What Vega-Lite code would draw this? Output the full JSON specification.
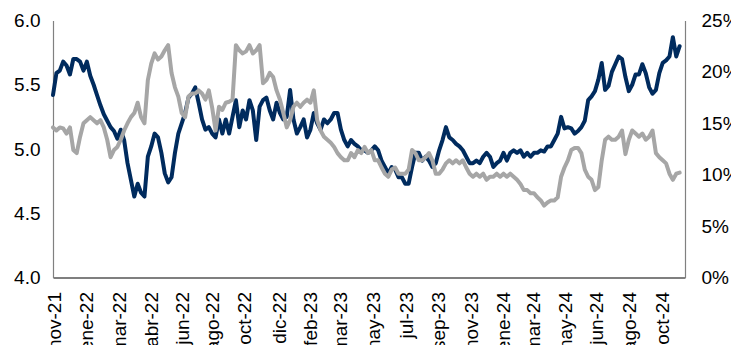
{
  "$schema": "https://vega.github.io/schema/vega-lite/v6.json",
  "width": 632,
  "height": 257,
  "autosize": "none",
  "padding": {"left": 53, "top": 20.5, "right": 46, "bottom": 67.5},
  "background": "white",
  "config": {
    "font": "Liberation Sans",
    "view": {"stroke": null},
    "axis": {"grid": false, "ticks": false, "title": null, "labelFontSize": 19, "labelColor": "#000000", "labelFont": "Liberation Sans", "domainWidth": 1.2}
  },
  "data": {
    "values": [
      {"date": "2021-11-05", "rate": 5.42, "share": 0.146},
      {"date": "2021-11-11", "rate": 5.59, "share": 0.143},
      {"date": "2021-11-17", "rate": 5.61, "share": 0.146},
      {"date": "2021-11-23", "rate": 5.68, "share": 0.145},
      {"date": "2021-11-29", "rate": 5.65, "share": 0.140},
      {"date": "2021-12-05", "rate": 5.58, "share": 0.146},
      {"date": "2021-12-11", "rate": 5.70, "share": 0.124},
      {"date": "2021-12-17", "rate": 5.70, "share": 0.121},
      {"date": "2021-12-23", "rate": 5.68, "share": 0.137},
      {"date": "2021-12-29", "rate": 5.61, "share": 0.150},
      {"date": "2022-01-04", "rate": 5.68, "share": 0.153},
      {"date": "2022-01-10", "rate": 5.57, "share": 0.156},
      {"date": "2022-01-16", "rate": 5.50, "share": 0.153},
      {"date": "2022-01-22", "rate": 5.42, "share": 0.150},
      {"date": "2022-01-28", "rate": 5.34, "share": 0.153},
      {"date": "2022-02-03", "rate": 5.27, "share": 0.146},
      {"date": "2022-02-09", "rate": 5.22, "share": 0.134},
      {"date": "2022-02-15", "rate": 5.17, "share": 0.117},
      {"date": "2022-02-21", "rate": 5.14, "share": 0.124},
      {"date": "2022-02-27", "rate": 5.08, "share": 0.127},
      {"date": "2022-03-05", "rate": 5.15, "share": 0.134},
      {"date": "2022-03-11", "rate": 5.07, "share": 0.143},
      {"date": "2022-03-17", "rate": 4.89, "share": 0.150},
      {"date": "2022-03-23", "rate": 4.76, "share": 0.156},
      {"date": "2022-03-29", "rate": 4.63, "share": 0.160},
      {"date": "2022-04-04", "rate": 4.73, "share": 0.170},
      {"date": "2022-04-10", "rate": 4.66, "share": 0.156},
      {"date": "2022-04-16", "rate": 4.63, "share": 0.150},
      {"date": "2022-04-22", "rate": 4.94, "share": 0.192},
      {"date": "2022-04-28", "rate": 5.02, "share": 0.208},
      {"date": "2022-05-04", "rate": 5.12, "share": 0.218},
      {"date": "2022-05-10", "rate": 5.09, "share": 0.212},
      {"date": "2022-05-16", "rate": 4.97, "share": 0.215},
      {"date": "2022-05-22", "rate": 4.81, "share": 0.221},
      {"date": "2022-05-28", "rate": 4.74, "share": 0.226},
      {"date": "2022-06-03", "rate": 4.78, "share": 0.199},
      {"date": "2022-06-09", "rate": 4.97, "share": 0.185},
      {"date": "2022-06-15", "rate": 5.12, "share": 0.176},
      {"date": "2022-06-21", "rate": 5.20, "share": 0.160},
      {"date": "2022-06-27", "rate": 5.28, "share": 0.156},
      {"date": "2022-07-03", "rate": 5.40, "share": 0.176},
      {"date": "2022-07-09", "rate": 5.43, "share": 0.179},
      {"date": "2022-07-15", "rate": 5.48, "share": 0.179},
      {"date": "2022-07-21", "rate": 5.36, "share": 0.182},
      {"date": "2022-07-27", "rate": 5.23, "share": 0.179},
      {"date": "2022-08-02", "rate": 5.15, "share": 0.173},
      {"date": "2022-08-08", "rate": 5.17, "share": 0.182},
      {"date": "2022-08-14", "rate": 5.12, "share": 0.165},
      {"date": "2022-08-20", "rate": 5.09, "share": 0.143},
      {"date": "2022-08-26", "rate": 5.23, "share": 0.166},
      {"date": "2022-09-01", "rate": 5.12, "share": 0.163},
      {"date": "2022-09-07", "rate": 5.23, "share": 0.170},
      {"date": "2022-09-13", "rate": 5.12, "share": 0.171},
      {"date": "2022-09-19", "rate": 5.25, "share": 0.173},
      {"date": "2022-09-25", "rate": 5.38, "share": 0.226},
      {"date": "2022-10-01", "rate": 5.17, "share": 0.221},
      {"date": "2022-10-07", "rate": 5.30, "share": 0.218},
      {"date": "2022-10-13", "rate": 5.23, "share": 0.220},
      {"date": "2022-10-19", "rate": 5.38, "share": 0.226},
      {"date": "2022-10-25", "rate": 5.30, "share": 0.218},
      {"date": "2022-10-31", "rate": 5.07, "share": 0.221},
      {"date": "2022-11-06", "rate": 5.33, "share": 0.226},
      {"date": "2022-11-12", "rate": 5.38, "share": 0.189},
      {"date": "2022-11-18", "rate": 5.40, "share": 0.192},
      {"date": "2022-11-24", "rate": 5.30, "share": 0.199},
      {"date": "2022-11-30", "rate": 5.23, "share": 0.195},
      {"date": "2022-12-06", "rate": 5.36, "share": 0.182},
      {"date": "2022-12-12", "rate": 5.28, "share": 0.173},
      {"date": "2022-12-18", "rate": 5.23, "share": 0.160},
      {"date": "2022-12-24", "rate": 5.25, "share": 0.146},
      {"date": "2022-12-30", "rate": 5.46, "share": 0.153},
      {"date": "2023-01-05", "rate": 5.23, "share": 0.166},
      {"date": "2023-01-11", "rate": 5.12, "share": 0.170},
      {"date": "2023-01-17", "rate": 5.17, "share": 0.166},
      {"date": "2023-01-23", "rate": 5.23, "share": 0.170},
      {"date": "2023-01-29", "rate": 5.09, "share": 0.173},
      {"date": "2023-02-04", "rate": 5.15, "share": 0.170},
      {"date": "2023-02-10", "rate": 5.28, "share": 0.182},
      {"date": "2023-02-16", "rate": 5.20, "share": 0.153},
      {"date": "2023-02-22", "rate": 5.15, "share": 0.143},
      {"date": "2023-02-28", "rate": 5.23, "share": 0.137},
      {"date": "2023-03-06", "rate": 5.20, "share": 0.134},
      {"date": "2023-03-12", "rate": 5.23, "share": 0.131},
      {"date": "2023-03-18", "rate": 5.28, "share": 0.127},
      {"date": "2023-03-24", "rate": 5.28, "share": 0.121},
      {"date": "2023-03-30", "rate": 5.15, "share": 0.117},
      {"date": "2023-04-05", "rate": 5.07, "share": 0.114},
      {"date": "2023-04-11", "rate": 5.02, "share": 0.114},
      {"date": "2023-04-17", "rate": 5.07, "share": 0.121},
      {"date": "2023-04-23", "rate": 5.04, "share": 0.117},
      {"date": "2023-04-29", "rate": 5.02, "share": 0.124},
      {"date": "2023-05-05", "rate": 4.99, "share": 0.121},
      {"date": "2023-05-11", "rate": 4.99, "share": 0.127},
      {"date": "2023-05-17", "rate": 4.97, "share": 0.121},
      {"date": "2023-05-23", "rate": 4.99, "share": 0.124},
      {"date": "2023-05-29", "rate": 5.02, "share": 0.114},
      {"date": "2023-06-04", "rate": 4.99, "share": 0.114},
      {"date": "2023-06-10", "rate": 4.91, "share": 0.107},
      {"date": "2023-06-16", "rate": 4.86, "share": 0.101},
      {"date": "2023-06-22", "rate": 4.81, "share": 0.098},
      {"date": "2023-06-28", "rate": 4.86, "share": 0.105},
      {"date": "2023-07-04", "rate": 4.84, "share": 0.107},
      {"date": "2023-07-10", "rate": 4.78, "share": 0.101},
      {"date": "2023-07-16", "rate": 4.78, "share": 0.101},
      {"date": "2023-07-22", "rate": 4.73, "share": 0.101},
      {"date": "2023-07-28", "rate": 4.73, "share": 0.105},
      {"date": "2023-08-03", "rate": 4.86, "share": 0.124},
      {"date": "2023-08-09", "rate": 4.97, "share": 0.121},
      {"date": "2023-08-15", "rate": 4.97, "share": 0.114},
      {"date": "2023-08-21", "rate": 4.91, "share": 0.114},
      {"date": "2023-08-27", "rate": 4.94, "share": 0.117},
      {"date": "2023-09-02", "rate": 4.91, "share": 0.121},
      {"date": "2023-09-08", "rate": 4.86, "share": 0.114},
      {"date": "2023-09-14", "rate": 4.89, "share": 0.101},
      {"date": "2023-09-20", "rate": 4.99, "share": 0.101},
      {"date": "2023-09-26", "rate": 5.07, "share": 0.105},
      {"date": "2023-10-02", "rate": 5.17, "share": 0.111},
      {"date": "2023-10-08", "rate": 5.09, "share": 0.114},
      {"date": "2023-10-14", "rate": 5.07, "share": 0.111},
      {"date": "2023-10-20", "rate": 5.04, "share": 0.114},
      {"date": "2023-10-26", "rate": 5.02, "share": 0.111},
      {"date": "2023-11-01", "rate": 4.99, "share": 0.114},
      {"date": "2023-11-07", "rate": 4.94, "share": 0.107},
      {"date": "2023-11-13", "rate": 4.89, "share": 0.101},
      {"date": "2023-11-19", "rate": 4.89, "share": 0.098},
      {"date": "2023-11-25", "rate": 4.91, "share": 0.101},
      {"date": "2023-12-01", "rate": 4.89, "share": 0.098},
      {"date": "2023-12-07", "rate": 4.94, "share": 0.101},
      {"date": "2023-12-13", "rate": 4.97, "share": 0.095},
      {"date": "2023-12-19", "rate": 4.94, "share": 0.098},
      {"date": "2023-12-25", "rate": 4.86, "share": 0.098},
      {"date": "2023-12-31", "rate": 4.89, "share": 0.101},
      {"date": "2024-01-06", "rate": 4.91, "share": 0.098},
      {"date": "2024-01-12", "rate": 4.97, "share": 0.101},
      {"date": "2024-01-18", "rate": 4.91, "share": 0.098},
      {"date": "2024-01-24", "rate": 4.97, "share": 0.101},
      {"date": "2024-01-30", "rate": 4.99, "share": 0.098},
      {"date": "2024-02-05", "rate": 4.97, "share": 0.095},
      {"date": "2024-02-11", "rate": 4.99, "share": 0.091},
      {"date": "2024-02-17", "rate": 4.94, "share": 0.085},
      {"date": "2024-02-23", "rate": 4.97, "share": 0.085},
      {"date": "2024-02-29", "rate": 4.94, "share": 0.082},
      {"date": "2024-03-06", "rate": 4.97, "share": 0.082},
      {"date": "2024-03-12", "rate": 4.97, "share": 0.078},
      {"date": "2024-03-18", "rate": 4.99, "share": 0.075},
      {"date": "2024-03-24", "rate": 4.98, "share": 0.070},
      {"date": "2024-03-30", "rate": 5.02, "share": 0.073},
      {"date": "2024-04-05", "rate": 5.02, "share": 0.075},
      {"date": "2024-04-11", "rate": 5.07, "share": 0.075},
      {"date": "2024-04-17", "rate": 5.12, "share": 0.078},
      {"date": "2024-04-23", "rate": 5.25, "share": 0.098},
      {"date": "2024-04-29", "rate": 5.16, "share": 0.107},
      {"date": "2024-05-05", "rate": 5.17, "share": 0.114},
      {"date": "2024-05-11", "rate": 5.16, "share": 0.124},
      {"date": "2024-05-17", "rate": 5.12, "share": 0.126},
      {"date": "2024-05-23", "rate": 5.14, "share": 0.126},
      {"date": "2024-05-29", "rate": 5.17, "share": 0.121},
      {"date": "2024-06-04", "rate": 5.22, "share": 0.105},
      {"date": "2024-06-10", "rate": 5.38, "share": 0.098},
      {"date": "2024-06-16", "rate": 5.41, "share": 0.095},
      {"date": "2024-06-22", "rate": 5.45, "share": 0.085},
      {"date": "2024-06-28", "rate": 5.54, "share": 0.088},
      {"date": "2024-07-04", "rate": 5.67, "share": 0.114},
      {"date": "2024-07-10", "rate": 5.46, "share": 0.134},
      {"date": "2024-07-16", "rate": 5.49, "share": 0.137},
      {"date": "2024-07-22", "rate": 5.60, "share": 0.134},
      {"date": "2024-07-28", "rate": 5.66, "share": 0.134},
      {"date": "2024-08-03", "rate": 5.72, "share": 0.137},
      {"date": "2024-08-09", "rate": 5.70, "share": 0.143},
      {"date": "2024-08-15", "rate": 5.56, "share": 0.120},
      {"date": "2024-08-21", "rate": 5.45, "share": 0.134},
      {"date": "2024-08-27", "rate": 5.50, "share": 0.143},
      {"date": "2024-09-02", "rate": 5.58, "share": 0.140},
      {"date": "2024-09-08", "rate": 5.58, "share": 0.137},
      {"date": "2024-09-14", "rate": 5.66, "share": 0.140},
      {"date": "2024-09-20", "rate": 5.59, "share": 0.134},
      {"date": "2024-09-26", "rate": 5.48, "share": 0.137},
      {"date": "2024-10-02", "rate": 5.43, "share": 0.143},
      {"date": "2024-10-08", "rate": 5.46, "share": 0.121},
      {"date": "2024-10-14", "rate": 5.59, "share": 0.117},
      {"date": "2024-10-20", "rate": 5.67, "share": 0.114},
      {"date": "2024-10-26", "rate": 5.69, "share": 0.111},
      {"date": "2024-11-01", "rate": 5.72, "share": 0.101},
      {"date": "2024-11-07", "rate": 5.87, "share": 0.095},
      {"date": "2024-11-13", "rate": 5.72, "share": 0.101},
      {"date": "2024-11-19", "rate": 5.80, "share": 0.102}
    ]
  },
  "encoding": {
    "x": {
      "field": "date",
      "type": "temporal",
      "scale": {
        "type": "utc",
        "domain": [
          {"year": 2021, "month": 11, "date": 5, "utc": true},
          {"year": 2024, "month": 11, "date": 28, "hours": 12, "utc": true}
        ]
      },
      "axis": {
        "values": [
          {"year": 2021, "month": 11, "date": 8, "utc": true},
          {"year": 2022, "month": 1, "date": 3, "utc": true},
          {"year": 2022, "month": 3, "date": 2, "utc": true},
          {"year": 2022, "month": 4, "date": 29, "utc": true},
          {"year": 2022, "month": 6, "date": 23, "utc": true},
          {"year": 2022, "month": 8, "date": 15, "utc": true},
          {"year": 2022, "month": 10, "date": 11, "utc": true},
          {"year": 2022, "month": 12, "date": 12, "utc": true},
          {"year": 2023, "month": 2, "date": 4, "utc": true},
          {"year": 2023, "month": 3, "date": 30, "utc": true},
          {"year": 2023, "month": 5, "date": 27, "utc": true},
          {"year": 2023, "month": 7, "date": 24, "utc": true},
          {"year": 2023, "month": 9, "date": 19, "utc": true},
          {"year": 2023, "month": 11, "date": 16, "utc": true},
          {"year": 2024, "month": 1, "date": 12, "utc": true},
          {"year": 2024, "month": 3, "date": 5, "utc": true},
          {"year": 2024, "month": 5, "date": 1, "utc": true},
          {"year": 2024, "month": 6, "date": 25, "utc": true},
          {"year": 2024, "month": 8, "date": 23, "utc": true},
          {"year": 2024, "month": 10, "date": 20, "utc": true}
        ],
        "labelExpr": "['ene','feb','mar','abr','may','jun','jul','ago','sep','oct','nov','dic'][utcmonth(datum.value)] + '-' + utcFormat(datum.value, '%y')",
        "labelAngle": -90,
        "labelPadding": 14,
        "labelFlush": false,
        "labelOverlap": false,
        "labelBound": false,
        "domainColor": "#000000"
      }
    }
  },
  "layer": [
    {
      "mark": {"type": "line", "color": "#002b5e", "strokeWidth": 4, "strokeJoin": "round", "strokeCap": "round"},
      "encoding": {
        "y": {
          "field": "rate",
          "type": "quantitative",
          "scale": {"domain": [4, 6], "nice": false, "zero": false},
          "axis": {"orient": "left", "values": [4, 4.5, 5, 5.5, 6], "format": ".1f", "domainColor": "#808080", "labelPadding": 13}
        }
      }
    },
    {
      "mark": {"type": "line", "color": "#a6a6a6", "strokeWidth": 4, "strokeJoin": "round", "strokeCap": "round"},
      "encoding": {
        "y": {
          "field": "share",
          "type": "quantitative",
          "scale": {"domain": [0, 0.25], "nice": false},
          "axis": {"orient": "right", "values": [0, 0.05, 0.1, 0.15, 0.2, 0.25], "format": ".0%", "domainColor": "#808080", "labelPadding": 16}
        }
      }
    }
  ],
  "resolve": {"scale": {"y": "independent"}}
}
